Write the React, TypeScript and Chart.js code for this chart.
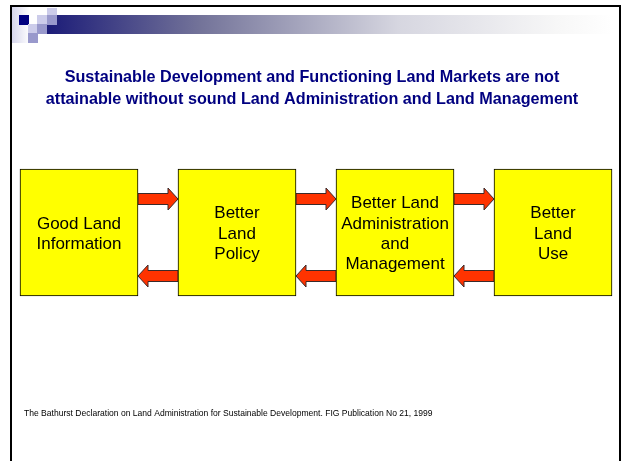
import { useEffect, useRef } from "react";
import { Chart, registerables } from "chart.js";

Chart.register(...registerables);

// ---- Data ----
const categories = [
  "Good Land Information",
  "Better Land Policy",
  "Better Land Administration and Management",
  "Better Land Use",
];
const boxLines = [
  ["Good Land", "Information"],
  ["Better", "Land", "Policy"],
  ["Better Land", "Administration", "and", "Management"],
  ["Better", "Land", "Use"],
];
const boxRanges = [
  [0, 1],
  [0, 1],
  [0, 1],
  [0, 1],
];
const forwardLinks = [
  [0, 1],
  [1, 2],
  [2, 3],
];
const backwardLinks = [
  [1, 0],
  [2, 1],
  [3, 2],
];
const titleLines = [
  "Sustainable Development and Functioning Land Markets are not",
  "attainable without sound Land Administration and Land Management",
];
const footnote =
  "The Bathurst Declaration on Land Administration for Sustainable Development. FIG Publication No 21, 1999";

const FONT = '"Liberation Sans", Arial, sans-serif';

function drawArrow(ctx: CanvasRenderingContext2D, x0: number, x1: number, cy: number) {
  const dir = x1 > x0 ? 1 : -1;
  const shaft = 5.5;
  const head = 11;
  const hl = 10;
  const hx = x1 - dir * hl;
  ctx.beginPath();
  ctx.moveTo(x0, cy - shaft);
  ctx.lineTo(hx, cy - shaft);
  ctx.lineTo(hx, cy - head);
  ctx.lineTo(x1, cy);
  ctx.lineTo(hx, cy + head);
  ctx.lineTo(hx, cy + shaft);
  ctx.lineTo(x0, cy + shaft);
  ctx.closePath();
  ctx.fillStyle = "#ff3300";
  ctx.fill();
  ctx.lineWidth = 1;
  ctx.strokeStyle = "#3a2a2a";
  ctx.stroke();
}

const slidePlugin = {
  id: "slide",
  beforeDraw(chart: any) {
    const ctx: CanvasRenderingContext2D = chart.ctx;
    const H = chart.height;
    ctx.save();
    ctx.fillStyle = "#ffffff";
    ctx.fillRect(0, 0, chart.width, H);

    // pale gradient at left of header
    let g = ctx.createLinearGradient(12, 0, 30, 0);
    g.addColorStop(0, "#d6d6ec");
    g.addColorStop(1, "#ffffff");
    ctx.fillStyle = g;
    ctx.fillRect(12, 7, 17, 36);

    // header gradient bar
    g = ctx.createLinearGradient(47, 0, 613, 0);
    g.addColorStop(0, "#1c1c78");
    g.addColorStop(0.27, "#737399");
    g.addColorStop(0.62, "#d6d6e0");
    g.addColorStop(0.9, "#f7f7f7");
    g.addColorStop(1, "#ffffff");
    ctx.fillStyle = g;
    ctx.fillRect(47, 15, 566, 19);

    // squares
    ctx.fillStyle = "#000080";
    ctx.fillRect(19, 15, 10, 10);
    ctx.fillStyle = "#ccccea";
    ctx.fillRect(37, 15, 10, 9);
    ctx.fillRect(47, 8, 10, 7);
    ctx.fillRect(28, 24, 9, 9);
    ctx.fillStyle = "#9999cc";
    ctx.fillRect(47, 15, 10, 10);
    ctx.fillRect(37, 24, 10, 10);
    ctx.fillRect(28, 33, 10, 10);

    // frame
    ctx.fillStyle = "#000000";
    ctx.fillRect(10, 5, 611, 2);
    ctx.fillRect(10, 5, 2, H - 5);
    ctx.fillRect(619, 5, 2, H - 5);

    // title
    ctx.fillStyle = "#000080";
    ctx.font = `bold 16.2px ${FONT}`;
    ctx.textAlign = "center";
    ctx.textBaseline = "alphabetic";
    ctx.fillText(titleLines[0], 312, 82);
    ctx.fillText(titleLines[1], 312, 103.5);

    // footnote
    ctx.fillStyle = "#000000";
    ctx.font = `8.55px ${FONT}`;
    ctx.textAlign = "left";
    ctx.fillText(footnote, 24, 416);
    ctx.restore();
  },
  beforeDatasetsDraw(chart: any) {
    const ctx: CanvasRenderingContext2D = chart.ctx;
    const bars = chart.getDatasetMeta(0).data;
    ctx.save();
    forwardLinks.forEach(([a, b]) => {
      const A = bars[a];
      const B = bars[b];
      const top = Math.min(A.y, A.base);
      drawArrow(ctx, A.x + A.width / 2, B.x - B.width / 2, top + 30);
    });
    backwardLinks.forEach(([a, b]) => {
      const A = bars[a];
      const B = bars[b];
      const bottom = Math.max(A.y, A.base);
      drawArrow(ctx, A.x - A.width / 2, B.x + B.width / 2, bottom - 20);
    });
    ctx.restore();
  },
  afterDatasetsDraw(chart: any) {
    const ctx: CanvasRenderingContext2D = chart.ctx;
    const bars = chart.getDatasetMeta(0).data;
    ctx.save();
    ctx.fillStyle = "#000000";
    ctx.font = `17px ${FONT}`;
    ctx.textAlign = "center";
    ctx.textBaseline = "alphabetic";
    const lh = 20.2;
    bars.forEach((bar: any, i: number) => {
      const lines = boxLines[i];
      const cy = (bar.y + bar.base) / 2;
      lines.forEach((t, k) => {
        ctx.fillText(t, bar.x, cy + (k - (lines.length - 1) / 2) * lh + 6.1);
      });
    });
    ctx.restore();
  },
};

export default function App() {
  const ref = useRef<HTMLCanvasElement>(null);
  useEffect(() => {
    const chart = new Chart(ref.current as HTMLCanvasElement, {
      type: "bar",
      data: {
        labels: categories,
        datasets: [
          {
            data: boxRanges as any,
            backgroundColor: "#ffff00",
            borderColor: "#000000",
            borderWidth: 1,
            borderSkipped: false,
            barThickness: 118,
            clip: false as any,
          },
        ],
      },
      options: {
        responsive: false,
        animation: false,
        layout: { padding: { left: 79, right: 71, top: 169, bottom: 165 } },
        scales: {
          x: { display: false, offset: false },
          y: { display: false, min: 0, max: 1 },
        },
        plugins: {
          legend: { display: false },
          tooltip: { enabled: false },
          title: { display: false },
        },
      },
      plugins: [slidePlugin],
    });
    return () => chart.destroy();
  }, []);
  return (
    <div style={{ position: "fixed", left: 0, top: 0, width: 624, height: 461, background: "#fff" }}>
      <canvas ref={ref} width={624} height={461} style={{ display: "block" }} />
    </div>
  );
}
